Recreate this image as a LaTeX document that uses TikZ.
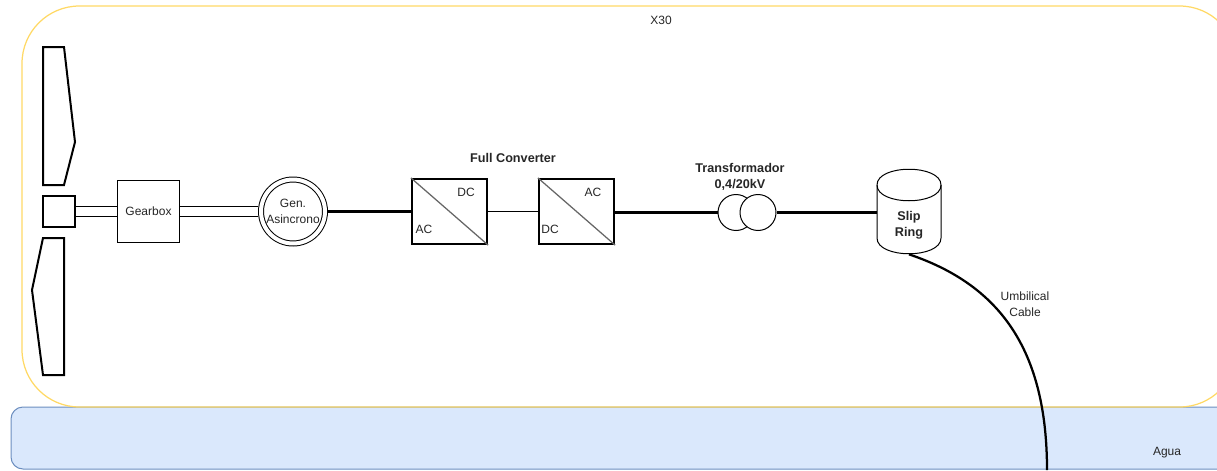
\documentclass[tikz,border=0pt]{standalone}
\usepackage{fontspec}
\setmainfont{Liberation Sans}
\definecolor{aguafill}{HTML}{DAE8FC}
\definecolor{agualine}{HTML}{6C8EBF}
\definecolor{towerline}{HTML}{FFD966}
\newcommand{\boldlabel}{\fontsize{7.2}{9.1}\selectfont\bfseries}
\tikzset{
 every node/.style={font=\fontsize{6.83}{9.1}\selectfont,text=black!85,inner sep=0pt,align=center},
 bladeline/.style={line width=.04cm,line join=miter},
 box/.style={draw,rectangle,line width=.02cm,fill=white},
 heavybox/.style={draw,rectangle,line width=.045cm,fill=white,minimum width=1.5cm,minimum height=1.3cm},
 shaft/.style={double,double distance=.18cm,line width=.02cm},
 bus/.style={line width=.07cm},
 winding/.style={draw,circle,line width=.02cm,fill=white,minimum size=.72cm},
}
\begin{document}
\begin{tikzpicture}[x=.02cm,y=-.02cm]
 \clip (0,0) rectangle (1217,470);
 \draw[agualine,fill=aguafill,line width=.02cm,rounded corners=.24cm] (11,407) rectangle (1260,469);
 \draw[towerline,line width=.025cm,rounded corners=1.15cm] (22,6) rectangle (1237,407);
 \node (x30) at (661,20) {X30};
 \node (agua) at (1167,453) {Agua};
 % rotor
 \draw[bladeline] (43,47) -- (64,47) -- (75,142) -- (64,185) -- (43,185) -- cycle;
 \draw[bladeline] (43,238) -- (64,238) -- (64,375) -- (43,375) -- (32,290) -- cycle;
 \node[box,line width=.04cm,minimum size=.64cm] (hub) at (59,211.5) {};
 \node[box,minimum size=1.26cm] (gearbox) at (148.5,211.5) {Gearbox};
 \node[draw,circle,double,double distance=.08cm,line width=.02cm,minimum size=1.28cm,outer sep=.06cm] (gen) at (293,211.5) {Gen.\\Asincrono};
 \draw[shaft] (hub) -- (gearbox);
 \draw[shaft] (gearbox) -- (gen);
 % converter
 \node[heavybox] (conva) at (449.5,211.5) {};
 \node[heavybox] (convb) at (576.5,211.5) {};
 \draw[black!60,line width=.025cm] (conva.north west) -- (conva.south east);
 \draw[black!60,line width=.025cm] (convb.north west) -- (convb.south east);
 \node (dca) at (466,192) {DC};
 \node (aca) at (424,229) {AC};
 \node (acb) at (593,192) {AC};
 \node (dcb) at (550,229) {DC};
 \node (fullconv) at (513,158) {\boldlabel Full Converter};
 \draw[bus] (gen) -- (conva);
 \draw[line width=.02cm] (conva) -- (convb);
 % transformer
 \node[winding] (wa) at (736,212.5) {};
 \node[winding] (wb) at (758,212.5) {};
 \node (trafo) at (740,177) {\boldlabel Transformador\\\boldlabel 0,4/20kV};
 % slip ring
 \draw[line width=.02cm,fill=white] (877,185) .. controls (877,164) and (941,164) .. (941,185) -- (941,238) .. controls (941,259) and (877,259) .. (877,238) -- cycle;
 \draw[line width=.02cm] (877,185) .. controls (877,206) and (941,206) .. (941,185);
 \node[minimum width=1.28cm,minimum height=1.7cm] (slip) at (909,211.5) {};
 \node (sliptext) at (909,225) {\boldlabel Slip\\\boldlabel Ring};
 \draw[bus] (convb.east |- wa.west) -- (wa.west);
 \draw[bus] (wb.east) -- (slip.west |- wb.east);
 % cable
 \coordinate (seabed) at (1047,470);
 \draw[line width=.045cm] (slip.south) .. controls (1000,285) and (1047,350) .. (seabed);
 \node (umb) at (1025,304) {Umbilical\\Cable};
\end{tikzpicture}
\end{document}
